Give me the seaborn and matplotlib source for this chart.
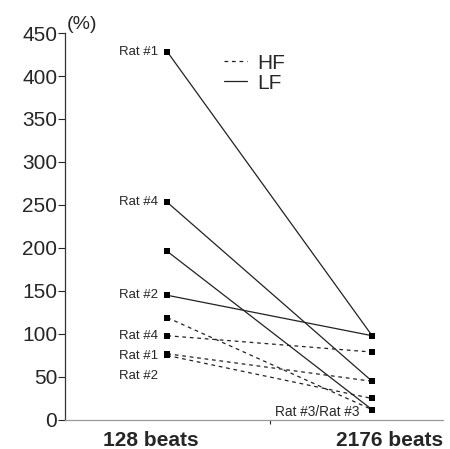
import matplotlib
matplotlib.use("Agg")
import matplotlib.pyplot as plt
import seaborn as sns
import pandas as pd
from matplotlib.lines import Line2D

sns.set_style("ticks")
plt.rcParams['font.family'] = ['Liberation Sans', 'DejaVu Sans']

# ---- data ----
times = ["128 beats", "2176 beats"]
rats = ["Rat #1", "Rat #2", "Rat #3", "Rat #4"]
lf_128 = [428, 145, 196, 253]
lf_2176 = [98, 98, 12, 45]
hf_128 = [77, 75, 119, 98]
hf_2176 = [45, 25, 12, 79]
yticks = [0, 50, 100, 150, 200, 250, 300, 350, 400, 450]

# left-side annotations (label, value)
left_labels = ["Rat #1", "Rat #4", "Rat #2", "Rat #4", "Rat #1", "Rat #2"]
left_label_vals = [428, 253, 145, 98, 74, 51]
right_label = "Rat #3/Rat #3"
right_label_val = 9

rows = []
for i, r in enumerate(rats):
    rows.append(dict(rat=r, band="LF", t=0, v=lf_128[i]))
    rows.append(dict(rat=r, band="LF", t=1, v=lf_2176[i]))
    rows.append(dict(rat=r, band="HF", t=0, v=hf_128[i]))
    rows.append(dict(rat=r, band="HF", t=1, v=hf_2176[i]))
df = pd.DataFrame(rows)

fig = plt.figure(figsize=(4.5, 4.49), dpi=100)
ax = fig.add_axes([0.1444, 0.0646, 0.8400, 0.8619])

sns.lineplot(data=df, x="t", y="v", units="rat", style="band", estimator=None,
             dashes={"HF": (3, 3), "LF": ""}, markers={"HF": "s", "LF": "s"},
             color="#222222", markersize=4, markeredgewidth=0,
             linewidth=0.9, legend=False, ax=ax, sort=False)
for ln in ax.lines:
    ln.set_markerfacecolor("black")

ax.set_xlim(-0.5, 1.346)
ax.set_ylim(0, 450)
ax.set_yticks(yticks)
ax.set_yticklabels([str(v) for v in yticks], fontsize=15)
ax.set_xticks([-0.083, 1.083])
ax.set_xticklabels(times, fontsize=15, fontweight="bold")
ax.tick_params(axis="x", length=0, pad=8)
ax.set_xticks([0.5], minor=True)
ax.tick_params(axis="x", which="minor", length=3, width=0.8, direction="out")
ax.tick_params(axis="y", length=5, width=0.8, pad=0.5)
ax.set_xlabel("")
ax.set_ylabel("")
for s in ["top", "right"]:
    ax.spines[s].set_visible(False)
for s in ["left", "bottom"]:
    ax.spines[s].set_linewidth(0.9)
    ax.spines[s].set_color("#333333")
ax.spines["bottom"].set_color("#999999")

ax.text(0.005, 1.0, "(%)", transform=ax.transAxes, fontsize=14,
        ha="left", va="bottom")

for lab, val in zip(left_labels, left_label_vals):
    ax.text(-0.045, val, lab, fontsize=9.5, ha="right", va="center")
ax.text(0.94, right_label_val, right_label, fontsize=9.8, ha="right", va="center")

handles = [Line2D([], [], color="#222222", lw=0.9, dashes=(3, 3)),
           Line2D([], [], color="#222222", lw=0.9)]
ax.legend(handles, ["HF", "LF"], loc="upper left", bbox_to_anchor=(0.37, 0.995),
          frameon=False, fontsize=15, handlelength=1.1, handletextpad=0.5,
          labelspacing=0.05)

fig.savefig("out.png", dpi=100)
